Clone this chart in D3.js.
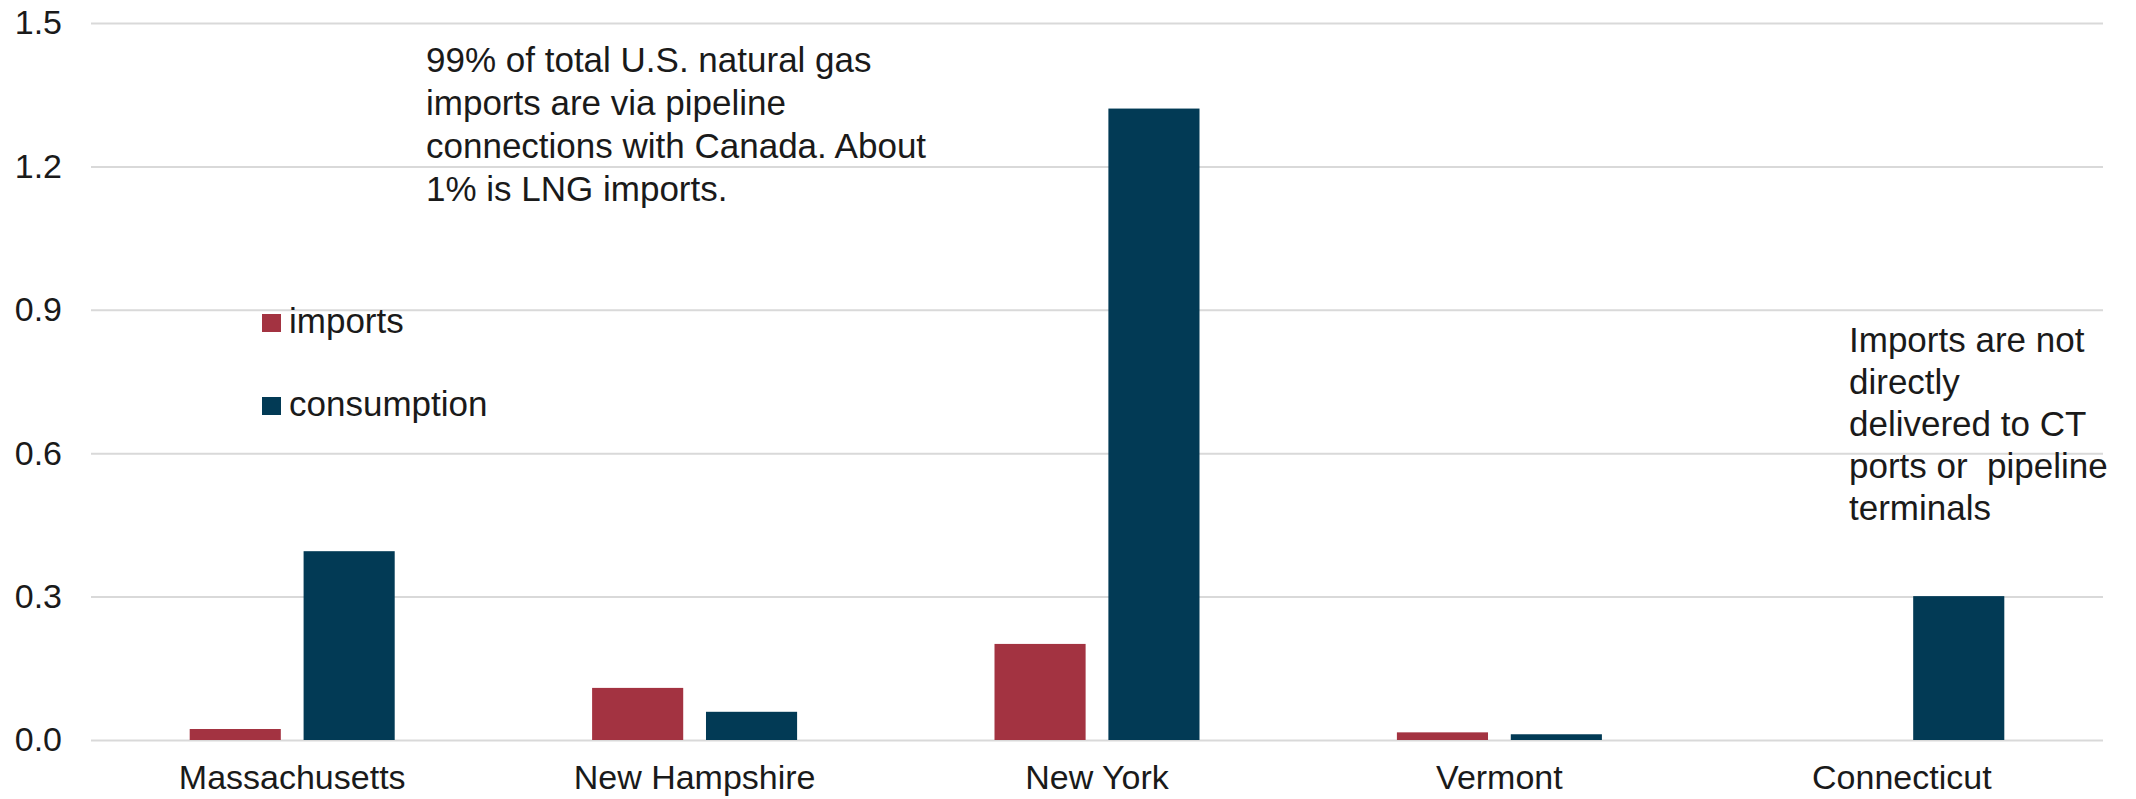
<!DOCTYPE html>
<html>
<head>
<meta charset="utf-8">
<script src="https://cdn.jsdelivr.net/npm/d3@7"></script>
<style>
  html, body { margin: 0; padding: 0; background: #ffffff; }
  svg { display: block; }
  text { font-family: "Liberation Sans", Arial, sans-serif; fill: #1a1a1a; }
</style>
</head>
<body>
<svg id="chart" width="2136" height="799"></svg>
<script>
// ---- data ----
const categories = ["Massachusetts", "New Hampshire", "New York", "Vermont", "Connecticut"];
const seriesNames = ["imports", "consumption"];
const imports = [0.023, 0.109, 0.201, 0.016, 0];
const consumption = [0.395, 0.059, 1.321, 0.012, 0.301];
const yTicks = [0, 0.3, 0.6, 0.9, 1.2, 1.5];
const yTickLabels = ["0.0", "0.3", "0.6", "0.9", "1.2", "1.5"];
const note1 = ["99% of total U.S. natural gas", "imports are via pipeline", "connections with Canada. About", "1% is LNG imports."];
const note2 = ["Imports are not", "directly", "delivered to CT", "ports or  pipeline", "terminals"];

// ---- layout ----
const svg = d3.select("#chart");
const plotLeft = 91, plotRight = 2103, plotTop = 23, plotBottom = 740;
const colors = { imports: "#a33341", consumption: "#023a55" };

const y = d3.scaleLinear().domain([0, 1.5]).range([plotBottom, plotTop]);
const x0 = d3.scaleBand().domain(categories).range([plotLeft, plotRight]).padding(0);
const groupW = 205;
const x1 = d3.scaleBand().domain(seriesNames)
  .range([(x0.bandwidth() - groupW) / 2, (x0.bandwidth() + groupW) / 2])
  .paddingInner(0.2).paddingOuter(0);

// y axis with gridlines
const yAxis = svg.append("g")
  .attr("transform", `translate(${plotLeft},0)`)
  .call(d3.axisLeft(y).tickValues(yTicks)
    .tickFormat((d, i) => yTickLabels[i])
    .tickSizeInner(-(plotRight - plotLeft)).tickSizeOuter(0).tickPadding(29));
yAxis.select(".domain").remove();
yAxis.selectAll(".tick line").attr("stroke", "#d9d9d9").attr("stroke-width", 2);
yAxis.selectAll(".tick text")
  .style("font-family", "'Liberation Sans', Arial, sans-serif")
  .style("font-size", "34px").attr("fill", "#1a1a1a");

// x axis
const xAxis = svg.append("g")
  .attr("transform", `translate(0,${plotBottom})`)
  .call(d3.axisBottom(x0).tickSize(0).tickPadding(25));
xAxis.select(".domain").remove();
xAxis.selectAll(".tick text")
  .style("font-family", "'Liberation Sans', Arial, sans-serif")
  .style("font-size", "34px").attr("fill", "#1a1a1a");

// bars
const rows = categories.map((c, i) => ({ cat: c, vals: [
  { key: "imports", value: imports[i] },
  { key: "consumption", value: consumption[i] }
]}));

const groups = svg.append("g").selectAll("g").data(rows).join("g")
  .attr("transform", d => `translate(${x0(d.cat)},0)`);
groups.selectAll("rect").data(d => d.vals.filter(v => v.value > 0)).join("rect")
  .attr("x", d => x1(d.key))
  .attr("width", x1.bandwidth())
  .attr("y", d => y(d.value))
  .attr("height", d => y(0) - y(d.value))
  .attr("fill", d => colors[d.key]);

// legend
const legend = svg.append("g");
const legendY = [314, 397];
seriesNames.forEach((s, i) => {
  legend.append("rect").attr("x", 262).attr("y", legendY[i]).attr("width", 19).attr("height", 18)
    .attr("fill", colors[s]);
  legend.append("text").attr("x", 289).attr("y", legendY[i] + 19)
    .style("font-size", "35px").text(s);
});

// annotations
const a1 = svg.append("text").attr("x", 426).attr("y", 72).style("font-size", "35px");
note1.forEach((t, i) => a1.append("tspan").attr("x", 426).attr("y", 72 + i * 43).text(t));
const a2 = svg.append("text").attr("x", 1849).attr("y", 352).style("font-size", "35px")
  .style("white-space", "pre");
note2.forEach((t, i) => a2.append("tspan").attr("x", 1849).attr("y", 352 + i * 42).text(t));
</script>
</body>
</html>
